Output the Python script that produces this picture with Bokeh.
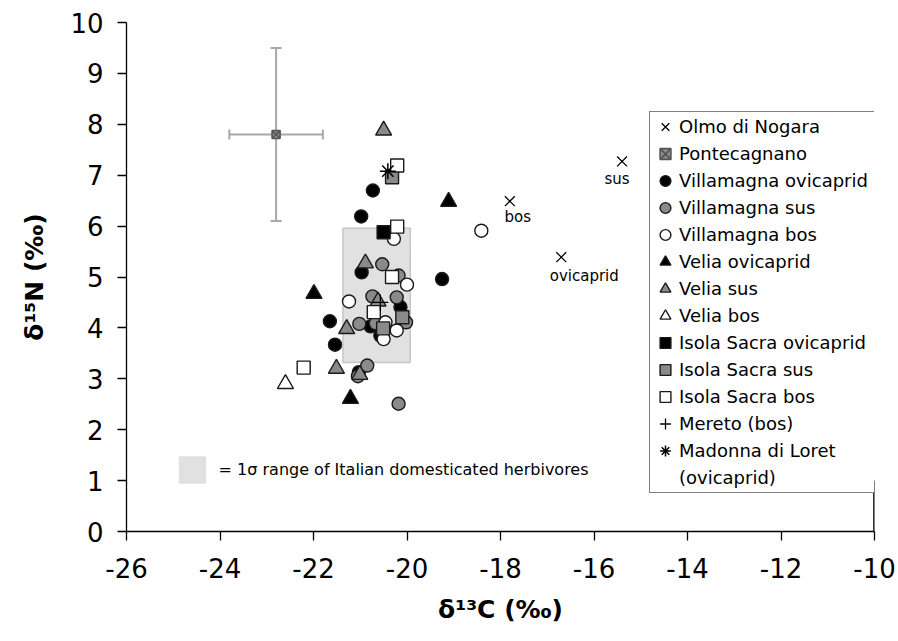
from bokeh.plotting import figure
from bokeh.models import (ColumnDataSource, Legend, LegendItem, Whisker, TeeHead,
                          BoxAnnotation, Label, FixedTicker)
from bokeh.core.properties import value
from bokeh.embed import file_html
from bokeh.resources import INLINE

# ---- data: delta13C / delta15N (per mil) ----
olmo_c = [-15.4, -17.8, -16.7]
olmo_n = [7.27, 6.49, 5.39]
olmo_taxa = ["sus", "bos", "ovicaprid"]

ponte_c = [-22.8]
ponte_n = [7.8]
ponte_sd_c = [1.0]
ponte_sd_n = [1.7]

villa_ovi_c = [-20.73, -20.98, -20.97, -19.25, -20.14, -21.65, -20.78, -20.57, -21.54, -21.03]
villa_ovi_n = [6.70, 6.19, 5.09, 4.96, 4.41, 4.13, 4.03, 3.85, 3.67, 3.13]

villa_sus_c = [-20.53, -20.18, -20.74, -20.22, -20.02, -21.02, -20.67, -20.85, -21.05, -20.18]
villa_sus_n = [5.25, 5.03, 4.62, 4.60, 4.11, 4.08, 4.09, 3.26, 3.05, 2.51]

villa_bos_c = [-20.28, -20.00, -21.24, -20.46, -20.50, -20.22, -18.41]
villa_bos_n = [5.75, 4.85, 4.52, 4.11, 3.78, 3.95, 5.91]

velia_ovi_c = [-19.11, -21.99, -21.21]
velia_ovi_n = [6.48, 4.67, 2.61]

velia_sus_c = [-20.50, -20.89, -20.62, -21.29, -21.51, -21.01]
velia_sus_n = [7.88, 5.27, 4.52, 3.98, 3.20, 3.08]

velia_bos_c = [-22.60]
velia_bos_n = [2.90]

isola_ovi_c = [-20.50]
isola_ovi_n = [5.88]

isola_sus_c = [-20.32, -20.10, -20.51]
isola_sus_n = [6.96, 4.21, 3.99]

isola_bos_c = [-20.21, -20.21, -20.32, -20.71, -22.21]
isola_bos_n = [7.19, 5.99, 5.00, 4.31, 3.22]

mereto_c = [-20.57]
mereto_n = [4.50]

loreto_c = [-20.41]
loreto_n = [7.08]

# 1 sigma range of Italian domesticated herbivores
herb_c_mean, herb_c_sd = -20.65, 0.72
herb_n_mean, herb_n_sd = 4.64, 1.32

x_min, x_max = -26, -10
y_min, y_max = 0, 10
x_ticks = list(range(x_min, x_max + 1, 2))
y_ticks = list(range(y_min, y_max + 1))
x_tick_labels = {t: str(t) for t in x_ticks}

# ---- styling ----
FONT = "DejaVu Sans"
GREY = "#8a8a8a"
EDGE = "#1a1a1a"

p = figure(width=898, height=641, x_range=(x_min, x_max), y_range=(y_min, y_max),
           output_backend="svg", toolbar_location=None,
           min_border_left=126, min_border_right=24,
           min_border_top=22, min_border_bottom=110)
p.outline_line_color = None
p.grid.visible = False

for ax in (p.xaxis[0], p.yaxis[0]):
    ax.axis_line_color = "black"
    ax.axis_line_width = 1.3
    ax.major_tick_line_color = "black"
    ax.major_tick_line_width = 1.3
    ax.major_tick_out = 9
    ax.major_tick_in = 0
    ax.minor_tick_line_color = None
    ax.major_label_text_font = FONT
    ax.major_label_text_font_size = "26px"
    ax.major_label_text_color = "black"
    ax.axis_label_text_font = FONT
    ax.axis_label_text_font_size = "25px"
    ax.axis_label_text_font_style = "bold"
    ax.axis_label_text_color = "black"

p.xaxis.ticker = FixedTicker(ticks=x_ticks)
p.yaxis.ticker = FixedTicker(ticks=y_ticks)
p.xaxis.major_label_overrides = x_tick_labels
p.xaxis.major_label_standoff = 17
p.yaxis.major_label_standoff = 14
p.xaxis.axis_label = "δ¹³C (‰)"
p.yaxis.axis_label = "δ¹⁵N (‰)"
p.xaxis.axis_label_standoff = 14
p.yaxis.axis_label_standoff = 18

# right edge of the plot area (visible below the legend)
p.segment(x0=[x_max], y0=[y_min], x1=[x_max], y1=[y_min + 1],
          line_color="black", line_width=2.6)

# shaded 1 sigma box
p.quad(left=[herb_c_mean - herb_c_sd], right=[herb_c_mean + herb_c_sd],
       bottom=[herb_n_mean - herb_n_sd], top=[herb_n_mean + herb_n_sd],
       fill_color="#e1e1e1", line_color="#c6c6c6", line_width=1.5)

# Pontecagnano error bars
eb = ColumnDataSource(dict(
    x=ponte_c, y=ponte_n,
    y_lo=[n - s for n, s in zip(ponte_n, ponte_sd_n)],
    y_hi=[n + s for n, s in zip(ponte_n, ponte_sd_n)],
    x_lo=[c - s for c, s in zip(ponte_c, ponte_sd_c)],
    x_hi=[c + s for c, s in zip(ponte_c, ponte_sd_c)],
))
EB_COL = "#a8a8a8"
p.add_layout(Whisker(source=eb, base="x", lower="y_lo", upper="y_hi", dimension="height",
                     line_color=EB_COL, line_width=2, level="underlay",
                     lower_head=TeeHead(size=11, line_color=EB_COL, line_width=2),
                     upper_head=TeeHead(size=11, line_color=EB_COL, line_width=2)))
p.add_layout(Whisker(source=eb, base="y", lower="x_lo", upper="x_hi", dimension="width",
                     line_color=EB_COL, line_width=2, level="underlay",
                     lower_head=TeeHead(size=10, line_color=EB_COL, line_width=2),
                     upper_head=TeeHead(size=10, line_color=EB_COL, line_width=2)))


def series(xs, ys, marker, size, fill, line=EDGE, lw=1.4):
    src = ColumnDataSource(dict(x=xs, y=ys))
    return p.scatter("x", "y", source=src, marker=marker, size=size,
                     fill_color=fill, line_color=line, line_width=lw)


olmo_src = ColumnDataSource(dict(x=olmo_c, y=olmo_n, label=olmo_taxa,
                                 dx=[-5, 8, 23], dy=[18, 16, 19]))
r_olmo = p.scatter("x", "y", source=olmo_src, marker="x", size=14,
                   line_color="black", line_width=1.3)
p.text("x", "y", text="label", x_offset="dx", y_offset="dy", source=olmo_src,
       text_font=value(FONT), text_font_size="15px", text_color="black",
       text_align="center", text_baseline="middle")

r_ponte = series(ponte_c, ponte_n, "square_x", 8, "#8c8c8c", line="#555555", lw=1.6)
r_vo = series(villa_ovi_c, villa_ovi_n, "circle", 13, "black")
r_vs = series(villa_sus_c, villa_sus_n, "circle", 13, GREY)
r_vb = series(villa_bos_c, villa_bos_n, "circle", 13, "white")
r_eo = series(velia_ovi_c, velia_ovi_n, "triangle", 16, "black")
r_es = series(velia_sus_c, velia_sus_n, "triangle", 16, GREY)
r_eb = series(velia_bos_c, velia_bos_n, "triangle", 16, "white")
r_io = series(isola_ovi_c, isola_ovi_n, "square", 13, "black")
r_is = series(isola_sus_c, isola_sus_n, "square", 13, GREY)
r_ib = series(isola_bos_c, isola_bos_n, "square", 13, "white")
r_me = series(mereto_c, mereto_n, "cross", 16, None, line="black", lw=1.3)
r_lo = series(loreto_c, loreto_n, "asterisk", 16, None, line="black", lw=1.5)
r_blank = p.scatter(x=[], y=[], marker="circle", size=1, alpha=0)

items = [
    LegendItem(label="Olmo di Nogara", renderers=[r_olmo]),
    LegendItem(label="Pontecagnano", renderers=[r_ponte]),
    LegendItem(label="Villamagna ovicaprid", renderers=[r_vo]),
    LegendItem(label="Villamagna sus", renderers=[r_vs]),
    LegendItem(label="Villamagna bos", renderers=[r_vb]),
    LegendItem(label="Velia ovicaprid", renderers=[r_eo]),
    LegendItem(label="Velia sus", renderers=[r_es]),
    LegendItem(label="Velia bos", renderers=[r_eb]),
    LegendItem(label="Isola Sacra ovicaprid", renderers=[r_io]),
    LegendItem(label="Isola Sacra sus", renderers=[r_is]),
    LegendItem(label="Isola Sacra bos", renderers=[r_ib]),
    LegendItem(label="Mereto (bos)", renderers=[r_me]),
    LegendItem(label="Madonna di Loret", renderers=[r_lo]),
    LegendItem(label="(ovicaprid)", renderers=[r_blank]),
]
legend = Legend(items=items, location=(523, 38), orientation="vertical",
                label_text_font=FONT, label_text_font_size="18px",
                label_text_color="black",
                glyph_width=28, glyph_height=27, label_height=27,
                label_width=215, label_standoff=0,
                spacing=0, padding=1, margin=0,
                border_line_color="black", border_line_width=1.3,
                background_fill_color="white", background_fill_alpha=1.0)
p.add_layout(legend)

# key for the shaded box
p.add_layout(BoxAnnotation(left=-24.87, right=-24.31, bottom=0.95, top=1.47,
                           fill_color="#e1e1e1", fill_alpha=1.0,
                           line_color="#c6c6c6", line_width=1.5))
p.add_layout(Label(x=-24.03, y=1.22, text="= 1σ range of Italian domesticated herbivores",
                   text_font=FONT, text_font_size="16px", text_color="black",
                   text_baseline="middle"))

open("out.html", "w").write(file_html(p, INLINE))
